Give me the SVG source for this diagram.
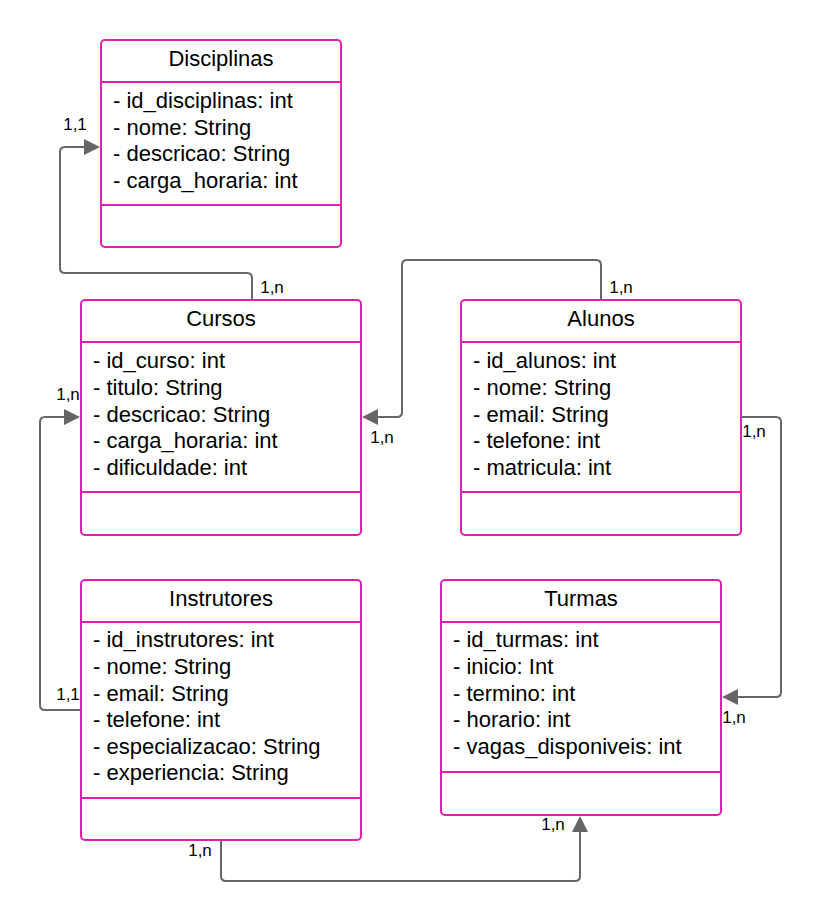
<svg xmlns="http://www.w3.org/2000/svg" width="822" height="922" viewBox="0 0 822 922">
<style>
.box{fill:#ffffff;stroke:#df1fae;stroke-width:2}
.sep{stroke:#df1fae;stroke-width:2}
.t{font-family:"Liberation Sans",Arial,sans-serif;font-size:22px;fill:#000}
.c{text-anchor:middle}
.conn{fill:none;stroke:#666666;stroke-width:2}
.lbl{font-family:"Liberation Sans",Arial,sans-serif;font-size:17px;fill:#000;text-anchor:middle}
</style>
<defs>
<marker id="arr" viewBox="0 0 16 16" refX="0" refY="8" markerWidth="16" markerHeight="16" markerUnits="userSpaceOnUse" orient="auto">
<path d="M0,0 L16,8 L0,16 Z" fill="#666666"/>
</marker>
</defs>
<rect width="822" height="922" fill="#ffffff"/>

<g id="connectors">
<path class="conn" marker-end="url(#arr)" d="M252,300 V278 Q252,273 247,273 H65 Q60,273 60,268 V152 Q60,147 65,147 H84"/>
<path class="conn" marker-end="url(#arr)" d="M601,300 V265 Q601,260 596,260 H407 Q402,260 402,265 V412 Q402,417 397,417 H378"/>
<path class="conn" marker-end="url(#arr)" d="M741,417 H776 Q781,417 781,422 V692 Q781,697 776,697 H738"/>
<path class="conn" marker-end="url(#arr)" d="M81,710 H45 Q40,710 40,705 V422 Q40,417 45,417 H64"/>
<path class="conn" marker-end="url(#arr)" d="M221,840 V876 Q221,881 226,881 H575 Q580,881 580,876 V832"/>
<text class="lbl" x="75" y="130">1,1</text>
<text class="lbl" x="272" y="293">1,n</text>
<text class="lbl" x="621" y="293">1,n</text>
<text class="lbl" x="382" y="443">1,n</text>
<text class="lbl" x="754" y="437">1,n</text>
<text class="lbl" x="68" y="400">1,n</text>
<text class="lbl" x="68" y="700">1,1</text>
<text class="lbl" x="734" y="723">1,n</text>
<text class="lbl" x="553" y="830">1,n</text>
<text class="lbl" x="200" y="856">1,n</text>
</g>

<g id="disciplinas">
<rect class="box" x="101" y="40" width="240" height="207" rx="4"/>
<line class="sep" x1="101" y1="82" x2="341" y2="82"/>
<line class="sep" x1="101" y1="205" x2="341" y2="205"/>
<text class="t c" x="221" y="66">Disciplinas</text>
<text class="t" x="113" y="108">- id_disciplinas: int</text>
<text class="t" x="113" y="134.6">- nome: String</text>
<text class="t" x="113" y="161.2">- descricao: String</text>
<text class="t" x="113" y="187.8">- carga_horaria: int</text>
</g>

<g id="cursos">
<rect class="box" x="81" y="300" width="280" height="235" rx="4"/>
<line class="sep" x1="81" y1="342" x2="361" y2="342"/>
<line class="sep" x1="81" y1="492" x2="361" y2="492"/>
<text class="t c" x="221" y="326">Cursos</text>
<text class="t" x="93" y="368.3">- id_curso: int</text>
<text class="t" x="93" y="394.9">- titulo: String</text>
<text class="t" x="93" y="421.5">- descricao: String</text>
<text class="t" x="93" y="448.1">- carga_horaria: int</text>
<text class="t" x="93" y="474.7">- dificuldade: int</text>
</g>

<g id="alunos">
<rect class="box" x="461" y="300" width="280" height="235" rx="4"/>
<line class="sep" x1="461" y1="342" x2="741" y2="342"/>
<line class="sep" x1="461" y1="492" x2="741" y2="492"/>
<text class="t c" x="601" y="326">Alunos</text>
<text class="t" x="473" y="368.3">- id_alunos: int</text>
<text class="t" x="473" y="394.9">- nome: String</text>
<text class="t" x="473" y="421.5">- email: String</text>
<text class="t" x="473" y="448.1">- telefone: int</text>
<text class="t" x="473" y="474.7">- matricula: int</text>
</g>

<g id="instrutores">
<rect class="box" x="81" y="580" width="280" height="260" rx="4"/>
<line class="sep" x1="81" y1="622" x2="361" y2="622"/>
<line class="sep" x1="81" y1="798" x2="361" y2="798"/>
<text class="t c" x="221" y="606">Instrutores</text>
<text class="t" x="93" y="647.3">- id_instrutores: int</text>
<text class="t" x="93" y="673.9">- nome: String</text>
<text class="t" x="93" y="700.5">- email: String</text>
<text class="t" x="93" y="727.1">- telefone: int</text>
<text class="t" x="93" y="753.7">- especializacao: String</text>
<text class="t" x="93" y="780.3">- experiencia: String</text>
</g>

<g id="turmas">
<rect class="box" x="441" y="580" width="280" height="235" rx="4"/>
<line class="sep" x1="441" y1="622" x2="721" y2="622"/>
<line class="sep" x1="441" y1="772" x2="721" y2="772"/>
<text class="t c" x="581" y="606">Turmas</text>
<text class="t" x="453" y="647.3">- id_turmas: int</text>
<text class="t" x="453" y="673.9">- inicio: Int</text>
<text class="t" x="453" y="700.5">- termino: int</text>
<text class="t" x="453" y="727.1">- horario: int</text>
<text class="t" x="453" y="753.7">- vagas_disponiveis: int</text>
</g>
</svg>
